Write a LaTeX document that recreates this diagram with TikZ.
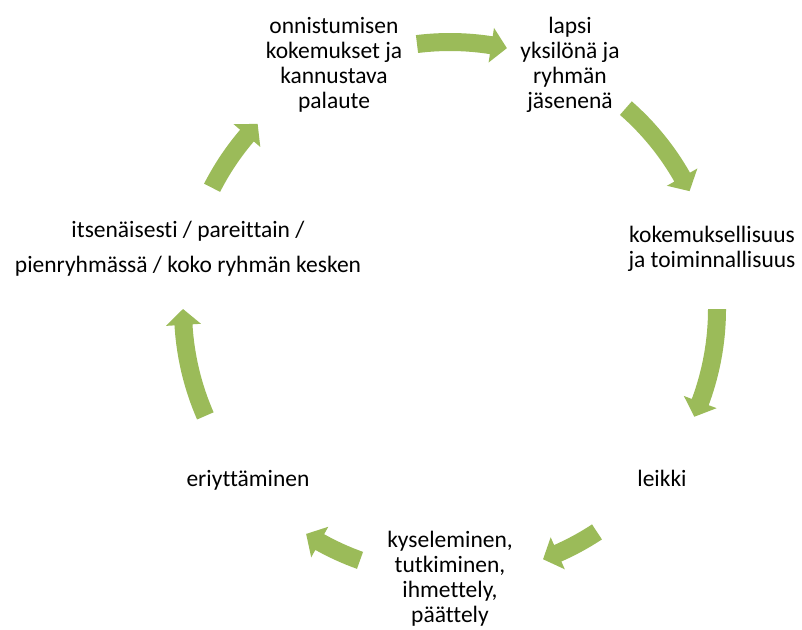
\documentclass[tikz,border=0pt]{standalone}
\usepackage{fontspec}
\setmainfont{Carlito}[Ligatures=NoCommon]
\definecolor{arrowgreen}{HTML}{9BBB59}
\tikzset{
  lbl/.style={inner sep=0pt, anchor=base, align=center, text=black,
    font=\fontsize{23.5}{25}\selectfont},
  cyc/.style={fill=arrowgreen, draw=none}
}
% screen angles (clockwise), start -> end
\newcommand\cycarrow[2]{%
  \pgfmathsetmacro\cah{#2-3.4}%
  \path[cyc, shift={(450,309)}]
    (#1:276) arc[start angle=#1, end angle=\cah, radius=276]
    -- (\cah:284.5) -- (#2:267) -- (\cah:249.5) -- (\cah:258)
    arc[start angle=\cah, end angle=#1, radius=258] -- cycle;
}
\begin{document}
\begin{tikzpicture}[x=1pt, y=-1pt]
\useasboundingbox (0,0) rectangle (802,629);
\fill[white] (0,0) rectangle (802,629);

% anchor=base is the baseline of the last line
\node[lbl] (n1) at (334,108) {onnistumisen\\kokemukset ja\\kannustava\\palaute};
\node[lbl] (n2) at (570,108) {lapsi\\yksilönä ja\\ryhmän\\jäsenenä};
\node[lbl] (n3) at (712,267) {kokemuksellisuus\\ja toiminnallisuus};
\node[lbl] (n4) at (662,486) {leikki};
\node[lbl] (n5) at (450,622) {kyseleminen,\\tutkiminen,\\ihmettely,\\päättely};
\node[lbl] (n6) at (248,486) {eriyttäminen};
\node[lbl, font=\fontsize{23.5}{35}\selectfont] (n7) at (188,272) {itsenäisesti / pareittain /\\pienryhmässä / koko ryhmän kesken};

\cycarrow{-97.1}{-77.7}
\cycarrow{-48.8}{-26.2}
\cycarrow{0}{23.8}
\cycarrow{56.6}{69.6}
\cycarrow{109.7}{122.6}
\cycarrow{156.4}{180}
\cycarrow{207}{223.9}
\end{tikzpicture}
\end{document}
